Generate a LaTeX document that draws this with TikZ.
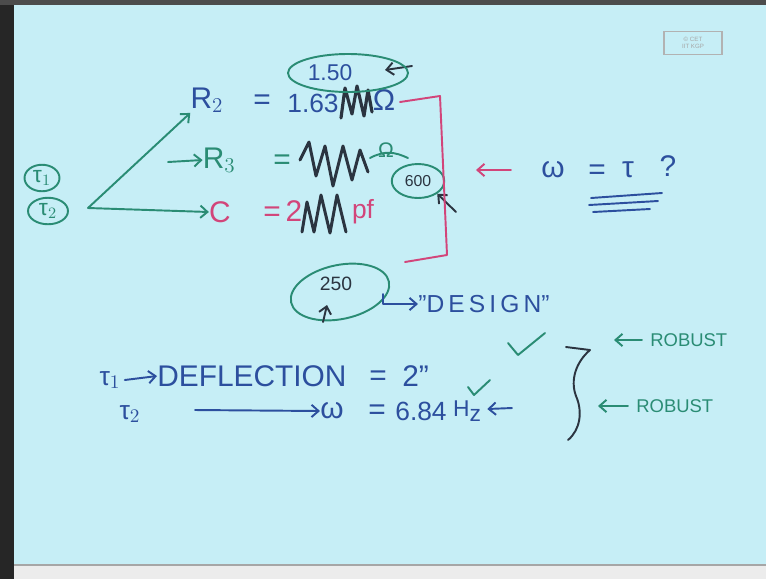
\documentclass[tikz,border=0pt]{standalone}
\usepackage{fontspec}
\setmainfont{Liberation Sans}
\usetikzlibrary{arrows.meta,positioning,shapes.geometric,calc}
\definecolor{Board}{HTML}{C6EEF6}
\definecolor{InkBlue}{HTML}{2C4F9E}
\definecolor{InkGreen}{HTML}{2A8C74}
\definecolor{InkRed}{HTML}{D2457A}
\definecolor{InkDark}{HTML}{2B3440}

\begin{document}
\begin{tikzpicture}[x=0.02cm,y=-0.02cm,
    ink/.style={font=\fontsize{17}{19}\selectfont,inner sep=0pt},
    smallink/.style={font=\fontsize{10.5}{11}\selectfont,inner sep=0pt},
    stroke/.style={line width=1.1pt,line cap=round,line join=round},
    barb/.style={-{Straight Barb[length=4pt,width=7pt]}},
    ring/.style={ellipse,draw,line width=1.1pt,inner sep=1pt}
  ]
  \useasboundingbox (0,0) rectangle (766,579);
  % board and frame
  \fill[Board] (0,0) rectangle (766,579);
  \fill[black!85] (0,0) rectangle (14,579);
  \fill[black!70] (0,0) rectangle (766,5);
  \fill[gray!15] (14,565) rectangle (766,579);
  \draw[gray!70,line width=1pt] (14,565) -- (766,565);
  % logo
  \node[draw=gray!60,line width=0.6pt,minimum width=1.16cm,minimum height=0.38cm,
    font=\fontsize{3.5}{4}\selectfont,text=gray!70,align=center] (logo) at (693,43)
    {© CET\\IIT KGP};

  % inputs and fork
  \node[ring,InkGreen,font=\fontsize{13}{14}\selectfont,minimum width=0.7cm] (tauA) at (42,178) {τ$_1$};
  \node[ring,InkGreen,font=\fontsize{13}{14}\selectfont,minimum width=0.8cm] (tauB) at (48,211) {τ$_2$};
  \coordinate (fork) at (88,208);

  % R2 row
  \node[ink,InkBlue] (rtwo) at (207,100) {R$_2$};
  \node[ink,InkBlue] (eqA) at (262,102) {=};
  \node[ink,InkBlue,font=\fontsize{15}{16}\selectfont] (valA) at (313,103) {1.63};
  \node[ink,InkBlue] (ohmA) at (384,100) {Ω};
  \draw[stroke,InkDark,line width=1.8pt] (341,118) -- (345,88) -- (352,114) -- (357,86) -- (364,116) -- (368,90) -- (372,112);
  % old value 1.50
  \node[InkBlue,font=\fontsize{13}{14}\selectfont,inner sep=0pt] (oldA) at (330,73) {1.50};
  \coordinate (oldAend) at (412,66);
  \draw[stroke,InkDark,barb] (oldAend) -- (385,70);
  \draw[stroke,InkGreen] (348,73) ellipse [x radius=60,y radius=19];

  % R3 row
  \node[ink,InkGreen,anchor=east] (rthree) at (236,160) {R$_3$};
  \coordinate (rthreein) at (168,162);
  \draw[stroke,InkGreen,barb] (rthreein) -- (rthree.west);
  \node[ink,InkGreen] (eqB) at (282,162) {=};
  \draw[stroke,InkDark,line width=1.7pt] (300,160) -- (309,142) -- (316,176) -- (325,146) -- (333,186) -- (343,146) -- (352,180) -- (360,150) -- (368,172);
  \node[InkGreen,font=\fontsize{12}{13}\selectfont,inner sep=0pt] (ohmB) at (386,150) {Ω};
  \draw[stroke,InkGreen] (370,158) .. controls (385,150) and (395,152) .. (408,158);
  \node[ring,InkGreen,minimum width=1.05cm,minimum height=0.68cm,text=InkDark,
    font=\fontsize{9}{10}\selectfont] (newB) at (418,181) {600};
  \coordinate (newBarrow) at (456,212);
  \draw[stroke,InkDark,barb] (newBarrow) -- (newB.south east);

  % C row
  \node[ink,InkRed] (cap) at (220,212) {C};
  \node[ink,InkRed] (eqC) at (272,214) {=};
  \node[ink,InkRed] (valC) at (294,211) {2};
  \draw[stroke,InkDark,line width=1.7pt] (302,232) -- (307,202) -- (314,232) -- (321,195) -- (330,233) -- (337,195) -- (346,232);
  \node[ink,InkRed,font=\fontsize{15}{16}\selectfont] (unitC) at (363,212) {pf};
  % old value 250
  \node[InkDark,font=\fontsize{11}{12}\selectfont,inner sep=0pt] (oldC) at (336,284) {250};
  \draw[stroke,InkGreen,rotate around={12:(340,292)}] (340,292) ellipse [x radius=50,y radius=27];
  \coordinate (oldCfoot) at (323,322);
  \draw[stroke,InkDark,barb] (oldCfoot) -- (327,305);

  % fork arrows
  \draw[stroke,InkGreen,barb] (fork) -- (rtwo.south west);
  \draw[stroke,InkGreen,barb] (fork) -- (cap.west);

  % bracket and question
  \draw[stroke,InkRed] (400,102) -- (440,96) -- (447,255) -- (405,262);
  \node[ink,InkBlue] (omegaQ) at (553,170) {ω};
  \node[ink,InkBlue] (eqQ) at (597,172) {=};
  \node[ink,InkBlue] (tauQ) at (628,170) {τ};
  \node[ink,InkBlue] (markQ) at (668,166) {?};
  \draw[stroke,InkRed,barb] (omegaQ.west) ++(-30,0) coordinate (redtail) -- ++(-35,0) coordinate (redhead);
  \draw[stroke,InkBlue] (591,198) -- (662,193);
  \draw[stroke,InkBlue] (589,205) -- (658,201);
  \draw[stroke,InkBlue] (593,212) -- (650,209);

  % design note
  \node[ink,InkBlue,font=\fontsize{14}{15}\selectfont,anchor=west] (design) at (418,304) {"D\,E\,S\,I\,G\,N"};
  \coordinate (designhook) at (383,294);
  \draw[stroke,InkBlue,barb] (designhook) |- (design.west);
  \draw[stroke,InkGreen] (508,343) -- (518,355) -- (545,333);

  % results
  \node[InkBlue,font=\fontsize{15}{16}\selectfont,inner sep=0pt] (tauC) at (110,380) {τ$_1$};
  \node[ink,InkBlue,anchor=west] (defl) at (157,376) {DEFLECTION};
  \node[ink,InkBlue] (eqD) at (378,378) {=};
  \node[ink,InkBlue,anchor=west] (twoD) at (402,376) {2"};
  \draw[stroke,InkBlue,barb] (tauC.east) ++(4,0) coordinate (deftail) -- (defl.west);
  \node[InkBlue,font=\fontsize{15}{16}\selectfont,inner sep=0pt] (tauD) at (130,414) {τ$_2$};
  \node[ink,InkBlue] (omegaR) at (332,411) {ω};
  \node[ink,InkBlue] (eqR) at (377,412) {=};
  \node[ink,InkBlue,font=\fontsize{15}{16}\selectfont] (valR) at (421,411) {6.84};
  \node[InkBlue,font=\fontsize{13}{14}\selectfont,inner sep=0pt] (unitR) at (467,411) {H\raisebox{-3pt}{z}};
  \coordinate (freqtail) at (195,410);
  \draw[stroke,InkBlue,barb] (freqtail) -- (omegaR.west);
  \draw[stroke,InkGreen] (468,387) -- (474,395) -- (490,380);
  \coordinate (freqmark) at (512,408);
  \draw[stroke,InkBlue,barb] (freqmark) -- ($(unitR.east)+(6,-2)$);

  % brace and robust notes
  \draw[stroke,InkDark] (566,347) -- (590,350) .. controls (576,362) and (570,380) .. (576,396)
    .. controls (583,412) and (580,430) .. (568,440);
  \node[smallink,InkGreen,anchor=west] (robA) at (650,340) {ROBUST};
  \node[smallink,InkGreen,anchor=west] (robB) at (636,406) {ROBUST};
  \draw[stroke,InkGreen,barb] (robA.west) ++(-8,0) coordinate (robAtail) -- ++(-28,0);
  \draw[stroke,InkGreen,barb] (robB.west) ++(-8,0) coordinate (robBtail) -- ++(-30,0);
\end{tikzpicture}
\end{document}
